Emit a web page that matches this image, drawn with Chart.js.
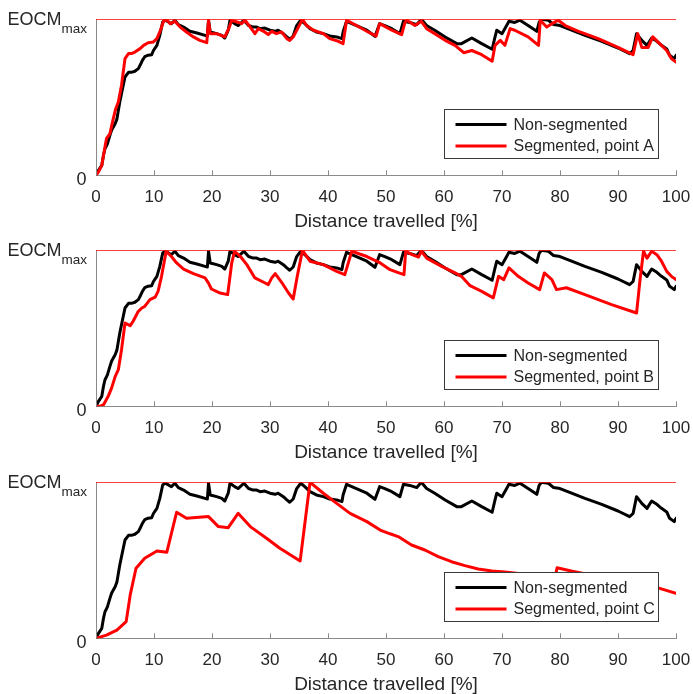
<!DOCTYPE html>
<html><head><meta charset="utf-8">
<script src="https://cdn.jsdelivr.net/npm/chart.js@4.4.1/dist/chart.umd.min.js"></script>
<style>
html,body{margin:0;padding:0;background:#fff;width:693px;height:694px;overflow:hidden}
.panel{position:absolute;left:0;width:693px;height:231px}
</style></head><body>
<div class="panel" style="top:0px"><canvas id="c1" width="693" height="231"></canvas></div>
<div class="panel" style="top:231px"><canvas id="c2" width="693" height="231"></canvas></div>
<div class="panel" style="top:463px"><canvas id="c3" width="693" height="231"></canvas></div>
<script>
// ---------- data ----------
const xTicks = [0,10,20,30,40,50,60,70,80,90,100];
const xTitle = 'Distance travelled [%]';
const yMinLabel = '0';
const yMaxLabel = 'EOCM';
const yMaxSub = 'max';
const eocmMax = 1;
const nonSegLabel = 'Non-segmented';
const segLabels = ['Segmented, point A','Segmented, point B','Segmented, point C'];

const nonSegmented = [[0,0],[0.4,0.03],[1.0,0.064],[1.3,0.13],[1.55,0.17],[1.95,0.20],[2.4,0.256],[2.7,0.29],[3.3,0.33],[3.6,0.36],[4.1,0.47],[4.7,0.577],[5.0,0.63],[5.6,0.66],[6.1,0.66],[6.7,0.667],[7.3,0.684],[7.6,0.705],[8.0,0.737],[8.4,0.76],[9.0,0.77],[9.6,0.773],[9.9,0.80],[10.5,0.833],[11.0,0.897],[11.5,0.983],[11.9,0.994],[12.5,0.983],[13.0,0.972],[13.6,0.994],[14.2,0.966],[15.1,0.95],[16.2,0.923],[17.4,0.912],[18.8,0.897],[19.2,0.893],[19.4,0.994],[19.7,0.919],[20.8,0.908],[21.7,0.897],[22.2,0.88],[22.8,0.93],[23.1,0.994],[23.9,0.972],[24.5,0.96],[25.1,0.98],[25.5,0.994],[26.3,0.96],[27.1,0.95],[27.7,0.95],[28.3,0.94],[29.1,0.944],[30.0,0.93],[30.9,0.923],[31.4,0.93],[32.3,0.908],[32.9,0.887],[33.4,0.872],[34.0,0.893],[34.6,0.96],[35.3,0.994],[36.0,0.972],[36.9,0.94],[38.0,0.919],[39.2,0.908],[40.3,0.893],[41.5,0.887],[42.4,0.876],[42.6,0.919],[43.2,0.987],[44.9,0.96],[46.7,0.93],[48.1,0.891],[48.9,0.972],[49.8,0.96],[51.0,0.94],[52.4,0.908],[53.0,0.987],[54.1,0.98],[55.3,0.966],[56.1,1.0],[57.0,0.96],[58.4,0.93],[60.2,0.887],[62.2,0.844],[63.0,0.844],[64.8,0.88],[66.5,0.844],[68.3,0.808],[68.8,0.887],[69.1,0.93],[70.0,0.908],[70.8,0.96],[71.2,0.987],[72.2,0.98],[73.1,0.994],[74.5,0.96],[76.0,0.923],[76.4,0.98],[76.8,1.0],[78.0,0.994],[78.9,0.966],[80.0,0.96],[82.0,0.93],[84.3,0.897],[87.2,0.859],[90.0,0.816],[92.0,0.78],[92.6,0.80],[93.2,0.908],[94.1,0.865],[95.0,0.833],[95.8,0.88],[96.7,0.859],[97.5,0.833],[98.4,0.81],[98.9,0.769],[99.7,0.748],[100,0.769]];

const segmentedA = [[0,0],[0.4,0.02],[1.0,0.064],[1.3,0.13],[1.8,0.235],[2.4,0.267],[2.9,0.35],[3.4,0.427],[3.85,0.47],[4.4,0.577],[5.0,0.748],[5.6,0.78],[6.1,0.78],[6.7,0.79],[7.6,0.812],[8.2,0.833],[9.0,0.85],[9.9,0.855],[10.5,0.876],[11.0,0.919],[11.6,0.983],[12.1,1.0],[12.8,0.972],[13.6,0.987],[14.5,0.95],[15.6,0.919],[16.8,0.887],[17.9,0.865],[19.1,0.85],[19.4,0.994],[19.7,0.908],[20.8,0.908],[22.2,0.887],[23.0,0.95],[23.4,0.994],[24.3,0.983],[25.1,0.972],[25.7,0.994],[26.6,0.95],[27.4,0.908],[28.0,0.94],[28.9,0.923],[29.7,0.902],[30.3,0.923],[31.1,0.908],[32.0,0.919],[32.9,0.876],[33.4,0.865],[34.0,0.887],[34.9,0.95],[35.6,1.0],[36.3,0.96],[37.5,0.93],[39.2,0.908],[40.3,0.876],[41.8,0.859],[42.6,0.844],[42.9,0.919],[43.2,0.994],[44.9,0.96],[46.7,0.923],[48.3,0.893],[48.9,0.972],[49.8,0.955],[51.0,0.93],[52.7,0.902],[53.3,0.983],[53.6,0.994],[55.0,0.96],[56.1,0.987],[57.0,0.94],[58.4,0.908],[60.2,0.865],[61.9,0.833],[63.4,0.786],[64.8,0.80],[66.5,0.773],[68.3,0.731],[68.8,0.833],[69.7,0.865],[70.5,0.833],[71.4,0.94],[72.2,0.93],[74.5,0.887],[76.3,0.833],[76.6,0.994],[77.7,0.95],[78.6,0.972],[79.7,0.994],[80.9,0.96],[83.2,0.923],[86.6,0.876],[90.0,0.82],[92.6,0.773],[93.4,0.908],[94.1,0.82],[95.2,0.82],[96.0,0.887],[97.5,0.833],[98.4,0.80],[99.2,0.748],[100,0.726]];

const segmentedB = [[0,0],[0.7,0],[1.3,0.01],[2.1,0.064],[2.7,0.118],[3.3,0.19],[3.85,0.235],[4.4,0.363],[5.0,0.534],[5.9,0.517],[6.4,0.545],[7.3,0.609],[7.9,0.63],[8.4,0.64],[9.3,0.684],[10.2,0.70],[10.7,0.737],[11.3,0.833],[12.1,0.994],[13.0,0.96],[13.9,0.919],[15.1,0.88],[16.8,0.85],[18.8,0.823],[19.4,0.79],[19.9,0.752],[21.4,0.726],[22.7,0.716],[23.4,0.919],[23.9,0.994],[24.9,0.96],[26.0,0.908],[27.4,0.823],[28.9,0.795],[29.7,0.78],[30.3,0.823],[30.9,0.85],[32.0,0.795],[33.2,0.726],[34.0,0.688],[34.7,0.833],[35.6,1.0],[36.9,0.93],[39.2,0.908],[41.5,0.865],[42.9,0.844],[44.1,0.994],[46.7,0.96],[49.0,0.919],[50.7,0.876],[51.5,0.865],[53.1,0.844],[53.4,0.994],[54.5,0.972],[55.6,0.957],[56.1,0.994],[57.0,0.95],[59.6,0.897],[61.9,0.855],[63.0,0.833],[64.5,0.773],[66.5,0.737],[68.5,0.695],[69.4,0.833],[70.3,0.812],[71.2,0.887],[72.8,0.833],[74.5,0.79],[76.5,0.748],[77.3,0.855],[78.6,0.812],[79.4,0.748],[81.1,0.76],[84.3,0.716],[88.9,0.652],[93.2,0.598],[93.8,0.812],[94.4,0.994],[95.0,0.95],[95.8,0.994],[96.7,0.972],[97.5,0.93],[98.4,0.865],[99.2,0.833],[100,0.812]];

const segmentedC = [[0,0],[1.8,0.02],[3.6,0.053],[5.2,0.107],[5.9,0.278],[6.9,0.449],[8.4,0.513],[10.5,0.56],[12.2,0.551],[13.9,0.808],[15.6,0.769],[19.4,0.78],[21.1,0.716],[22.8,0.709],[24.5,0.801],[26.6,0.716],[29.4,0.641],[31.7,0.577],[35.2,0.496],[36.9,1.0],[39.2,0.93],[41.5,0.865],[43.8,0.801],[46.7,0.748],[49.0,0.694],[50.7,0.67],[52.1,0.652],[54.4,0.598],[56.7,0.566],[59.0,0.523],[61.3,0.491],[63.6,0.466],[65.9,0.444],[68.3,0.432],[70.5,0.425],[74.0,0.41],[79.2,0.40],[79.5,0.452],[82.1,0.43],[90.0,0.37],[96.9,0.323],[100,0.289]];

// ---------- styling ----------
const FONT = '"Liberation Sans", Arial, Helvetica, sans-serif';
const TEXT = '#262626';
const AXIS = '#8a8a8a';
Chart.defaults.font.family = FONT;
Chart.defaults.color = TEXT;

const toXY = arr => arr.map(p => ({x: p[0], y: p[1]}));

const decor = {
  id: 'decor',
  afterDraw(chart) {
    const {ctx, chartArea: a, scales: {x, y}} = chart;
    ctx.save();
    // inward x ticks
    ctx.strokeStyle = AXIS; ctx.lineWidth = 1;
    xTicks.forEach(v => {
      const px = Math.round(x.getPixelForValue(v)) + 0.5;
      ctx.beginPath(); ctx.moveTo(px, a.bottom); ctx.lineTo(px, a.bottom - 5); ctx.stroke();
    });
    // y labels
    ctx.fillStyle = TEXT; ctx.textAlign = 'right'; ctx.textBaseline = 'alphabetic';
    const y0 = y.getPixelForValue(0), y1 = y.getPixelForValue(eocmMax);
    ctx.font = '18px ' + FONT;
    ctx.fillText(yMinLabel, a.left - 9.5, y0 + 10);
    ctx.font = '13.5px ' + FONT;
    const wSub = ctx.measureText(yMaxSub).width;
    ctx.fillText(yMaxSub, a.left - 9, y1 + 14);
    ctx.font = '18px ' + FONT;
    ctx.fillText(yMaxLabel, a.left - 9 - wSub, y1 + 5.5);
    // legend box
    const bw = 214, bh = 49;
    const bx = Math.round(a.right - 18 - bw) + 0.5, by = Math.round(a.bottom - 17 - bh) + 0.5;
    ctx.fillStyle = '#fff'; ctx.fillRect(bx, by, bw, bh);
    ctx.strokeStyle = '#3a3a3a'; ctx.lineWidth = 1; ctx.strokeRect(bx, by, bw, bh);
    const rows = [chart.data.datasets[0], chart.data.datasets[1]];
    const rowY = [by + 15, by + 36.5];
    ctx.font = '16px ' + FONT; ctx.textAlign = 'left'; ctx.textBaseline = 'middle';
    rows.forEach((ds, i) => {
      ctx.strokeStyle = ds.borderColor; ctx.lineWidth = 3;
      ctx.beginPath(); ctx.moveTo(bx + 11, rowY[i]); ctx.lineTo(bx + 62, rowY[i]); ctx.stroke();
      ctx.fillStyle = TEXT;
      ctx.fillText(ds.label, bx + 69, rowY[i] + 1);
    });
    ctx.restore();
  }
};

function makeChart(id, seg, segLabel) {
  return new Chart(document.getElementById(id), {
    type: 'line',
    data: {
      datasets: [
        {label: nonSegLabel, data: toXY(nonSegmented), borderColor: '#000000', borderWidth: 3, order: 2},
        {label: segLabel, data: toXY(seg), borderColor: '#ff0000', borderWidth: 3, order: 1},
        {label: 'EOCMmax', data: [{x: xTicks[0], y: eocmMax}, {x: xTicks[xTicks.length - 1], y: eocmMax}], borderColor: '#ff0000', borderWidth: 1.5, order: 0}
      ]
    },
    options: {
      responsive: false, animation: false, devicePixelRatio: 1,
      elements: {point: {radius: 0}, line: {tension: 0, borderJoinStyle: 'round', borderCapStyle: 'round', fill: false}},
      layout: {padding: {top: 19.3, right: 17, left: 0, bottom: 0}},
      plugins: {legend: {display: false}, tooltip: {enabled: false}},
      scales: {
        x: {
          type: 'linear', min: 0, max: 100,
          afterFit: s => { s.height = 55.7; s.paddingLeft = 0; s.paddingRight = 0; },
          ticks: {stepSize: 10, autoSkip: false, maxRotation: 0, minRotation: 0, padding: 12, color: TEXT, font: {size: 17}},
          grid: {display: true, drawOnChartArea: false, drawTicks: false},
          border: {display: true, color: AXIS, width: 1},
          title: {display: true, text: xTitle, color: TEXT, font: {size: 19, lineHeight: 1}, padding: 0}
        },
        y: {
          min: 0, max: eocmMax,
          afterFit: s => { s.width = 96; s.paddingTop = 0; s.paddingBottom = 0; },
          ticks: {display: false},
          grid: {display: true, drawOnChartArea: false, drawTicks: false},
          border: {display: true, color: AXIS, width: 1}
        }
      }
    },
    plugins: [decor]
  });
}

makeChart('c1', segmentedA, segLabels[0]);
makeChart('c2', segmentedB, segLabels[1]);
makeChart('c3', segmentedC, segLabels[2]);
</script>
</body></html>
